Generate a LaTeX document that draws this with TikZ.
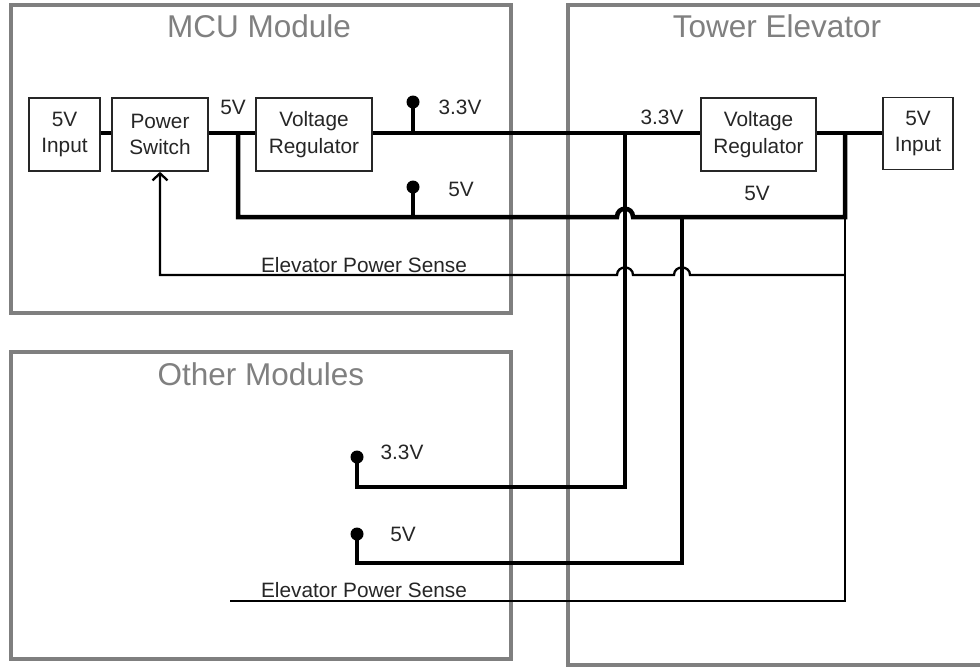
\documentclass[tikz,border=0pt]{standalone}
\usepackage{fontspec}
\setmainfont{Liberation Sans}
\usetikzlibrary{arrows.meta}
\definecolor{framegray}{HTML}{7F7F7F}
\definecolor{titlegray}{HTML}{808080}
\definecolor{inkdark}{HTML}{262626}
\tikzset{
  container/.style={draw=framegray, line width=4pt, inner sep=0pt, rectangle},
  ctitle/.style={text=titlegray, font=\fontsize{31.5}{35}\selectfont, inner sep=0pt},
  blockbox/.style={draw=inkdark, line width=1.6pt, inner sep=0pt, align=center,
    minimum height=73pt, font=\fontsize{20.8}{26.5}\selectfont, text=inkdark},
  lbl/.style={text=inkdark, font=\fontsize{20.8}{24}\selectfont, inner sep=0pt},
  pwr/.style={draw=black, line width=4.5pt},
  sig/.style={draw=black, line width=2.3pt},
  pindot/.style={fill=black},
}
\begin{document}
\begin{tikzpicture}[x=1pt,y=-1pt]
\useasboundingbox (0,0) rectangle (980,667);
\clip (0,0) rectangle (980,667);
\fill[white] (0,0) rectangle (980,667);

% containers
\node[container, minimum width=500pt, minimum height=308pt] (mcu) at (261,159) {};
\node[container, minimum width=500pt, minimum height=307pt] (oth) at (261,505.5) {};
\node[container, minimum width=450pt, minimum height=660pt] (tow) at (793,335) {};
\node[ctitle] (tmcu) at (259,26) {MCU Module};
\node[ctitle] (ttow) at (777,26) {Tower Elevator};
\node[ctitle] (toth) at (261,374) {Other Modules};

% blocks
\node[blockbox, minimum width=71pt] (in5L) at (64.5,134.5) {5V\\Input};
\node[blockbox, minimum width=96pt] (psw) at (160,134.5) {Power\\Switch};
\node[blockbox, minimum width=116pt] (regL) at (314,134.5) {Voltage\\Regulator};
\node[blockbox, minimum width=115pt] (regR) at (758.5,134.5) {Voltage\\Regulator};
\node[blockbox, minimum width=70pt, minimum height=72pt] (in5R) at (918,133.5) {5V\\Input};

% junction coordinates
\coordinate (jA) at (238,133);
\coordinate (p33) at (413,133);
\coordinate (d33) at (413,102);
\coordinate (j33) at (625,133);
\coordinate (jR) at (845,133);
\coordinate (bA) at (238,217);
\coordinate (p5) at (413,217);
\coordinate (d5) at (413,187);
\coordinate (bR) at (845,217);
\coordinate (j5d) at (682,217);
\coordinate (c33) at (625,487);
\coordinate (e33) at (357,487);
\coordinate (o33) at (357,457);
\coordinate (c5) at (682,563);
\coordinate (e5) at (357,563);
\coordinate (o5) at (357,534);
\coordinate (sR) at (845,275);
\coordinate (sL) at (160,275);
\coordinate (sB) at (845,601);
\coordinate (sE) at (230,601);

% power wires
\draw[pwr] (in5L.east |- jA) -- (psw.west |- jA);
\draw[pwr] (psw.east |- jA) -- (regL.west |- jA);
\draw[pwr] (regL.east |- p33) -- (regR.west |- p33);
\draw[pwr] (regR.east |- jR) -- (in5R.west |- jR);
\draw[pwr] (jA) -- (bA) -- (617,217) .. controls (617,206) and (633,206) .. (633,217) -- (bR) -- (jR);
\draw[pwr] (p33) -- (d33);
\draw[pwr] (p5) -- (d5);
\draw[pwr] (j33) -- (c33) -- (e33) -- (o33);
\draw[pwr] (j5d) -- (c5) -- (e5) -- (o5);
\fill[pindot] (d33) circle[radius=6.5pt];
\fill[pindot] (d5) circle[radius=6.5pt];
\fill[pindot] (o33) circle[radius=6.5pt];
\fill[pindot] (o5) circle[radius=6.5pt];

% sense wires
\draw[sig] (bR) -- (sB) -- (sE);
\draw[sig, -{Straight Barb[length=7pt,width=15pt]}] (sR) -- (690,275) .. controls (690,265) and (674,265) .. (674,275)
   -- (633,275) .. controls (633,265) and (617,265) .. (617,275) -- (sL) -- (psw.south);

% labels
\node[lbl] (l5a) at (233,107) {5V};
\node[lbl] (l33a) at (460,107) {3.3V};
\node[lbl] (l5b) at (461,189) {5V};
\node[lbl] (l33r) at (662,117) {3.3V};
\node[lbl] (l5r) at (757,193) {5V};
\node[lbl] (lsu) at (364,265) {Elevator Power Sense};
\node[lbl] (l33o) at (402,452) {3.3V};
\node[lbl] (l5o) at (403,534) {5V};
\node[lbl] (lsl) at (364,590) {Elevator Power Sense};
\end{tikzpicture}
\end{document}
